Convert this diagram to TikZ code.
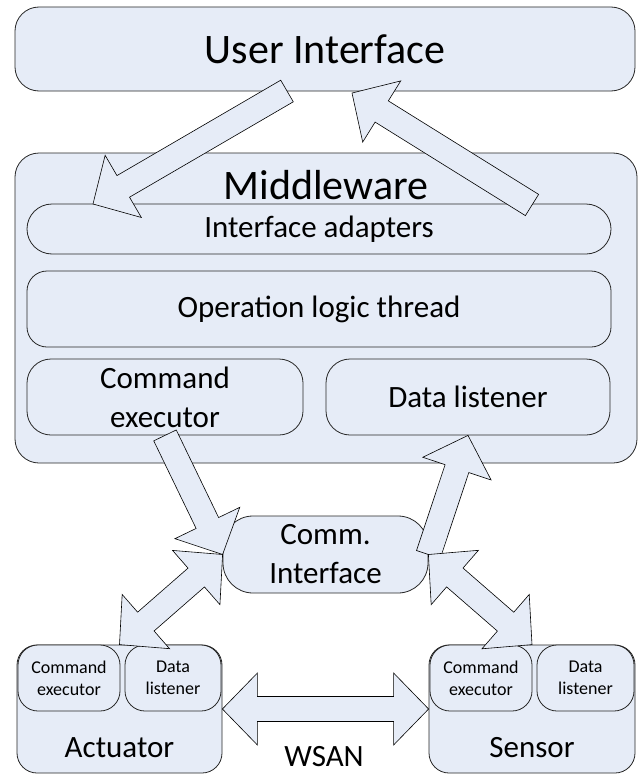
\documentclass[tikz,border=0pt]{standalone}
\usepackage{fontspec}
\setmainfont{Carlito}
\usetikzlibrary{calc}
\usetikzlibrary{positioning}
\usetikzlibrary{shapes.misc}
\definecolor{boxfill}{RGB}{230,236,247}

\newcommand{\fatarrow}[2]{%
\coordinate (h) at ($(#2)!35pt!(#1)$);
\draw[arrowbody] ($(#1)!12.5pt!90:(#2)$) -- ($(h)!12.5pt!90:(#2)$) -- ($(h)!36pt!90:(#2)$) -- (#2) -- ($(h)!36pt!-90:(#2)$) -- ($(h)!12.5pt!-90:(#2)$) -- ($(#1)!12.5pt!-90:(#2)$) -- cycle;}

\newcommand{\twoarrow}[2]{%
\coordinate (ha) at ($(#1)!35pt!(#2)$);
\coordinate (hb) at ($(#2)!35pt!(#1)$);
\draw[arrowbody] (#1) -- ($(ha)!36pt!90:(#2)$) -- ($(ha)!12.5pt!90:(#2)$) -- ($(hb)!12.5pt!-90:(#1)$) -- ($(hb)!36pt!-90:(#1)$) -- (#2) -- ($(hb)!36pt!90:(#1)$) -- ($(hb)!12.5pt!90:(#1)$) -- ($(ha)!12.5pt!-90:(#2)$) -- ($(ha)!36pt!-90:(#2)$) -- cycle;}

\begin{document}
\begin{tikzpicture}[x=1pt,y=-1pt,
  box/.style={draw=black!85,line width=0.8pt,fill=boxfill,rounded corners=#1,inner sep=0pt,align=center},
  box/.default=24pt,
  arrowbody/.style={draw=black,line width=0.6pt,fill=boxfill,line join=miter},
  bigfont/.style={font=\fontsize{42}{50}\selectfont},
  midfont/.style={font=\fontsize{31}{39}\selectfont,align=center},
  smallfont/.style={font=\fontsize{18}{22}\selectfont,align=center}]
\useasboundingbox (0,0) rectangle (644,776);
\node[box,bigfont,minimum width=620pt,minimum height=84pt] (UI) at (325,49) {User Interface};
\node[box,minimum width=622pt,minimum height=310pt] (MW) at (326,308) {};
\node[bigfont] (MWt) at (326,185) {Middleware};
\node[rounded rectangle,draw=black!85,line width=0.8pt,fill=boxfill,midfont,minimum width=584pt,minimum height=50pt,inner sep=0pt] (IA) at (319,229) {Interface adapters};
\node[box=20pt,midfont,minimum width=584pt,minimum height=76pt] (OL) at (319,309) {Operation logic thread};
\node[box,midfont,minimum width=276pt,minimum height=76pt] (CE) at (165,397) {Command\\executor};
\node[box,midfont,minimum width=284pt,minimum height=76pt] (DL) at (468,397) {Data listener};
\node[box=30pt,midfont,minimum width=205pt,minimum height=77pt] (CI) at (325.5,554.5) {Comm.\\Interface};

\node[box=20pt,minimum width=205pt,minimum height=128pt] (ACT) at (119.5,709) {};
\node[box=20pt,smallfont,minimum width=102pt,minimum height=66pt] (ACE) at (69,678) {Command\\executor};
\node[box=20pt,smallfont,minimum width=96pt,minimum height=66pt] (ADL) at (173,678) {Data\\listener};
\node[midfont] (ACTt) at (119.5,748) {Actuator};

\node[box=20pt,minimum width=206pt,minimum height=128pt] (SEN) at (532,709) {};
\node[box=20pt,smallfont,minimum width=102pt,minimum height=66pt] (SCE) at (481,678) {Command\\executor};
\node[box=20pt,smallfont,minimum width=97pt,minimum height=66pt] (SDL) at (585.5,678) {Data\\listener};
\node[midfont] (SENt) at (532,748) {Sensor};

\node[midfont] (WSAN) at (324,757) {WSAN};

\coordinate (UIa) at (287,91);
\coordinate (UIb) at (352,93);
\coordinate (IAa) at (93,204);
\coordinate (IAb) at (532,205);
\fatarrow{UIa}{IAa}
\fatarrow{IAb}{UIb}
\fatarrow{CE.south}{CI.west}
\fatarrow{CI.east}{DL.south}
\twoarrow{CI.west}{ACT.north}
\twoarrow{CI.east}{SEN.north}
\twoarrow{ACT.east}{SEN.west}
\end{tikzpicture}
\end{document}
